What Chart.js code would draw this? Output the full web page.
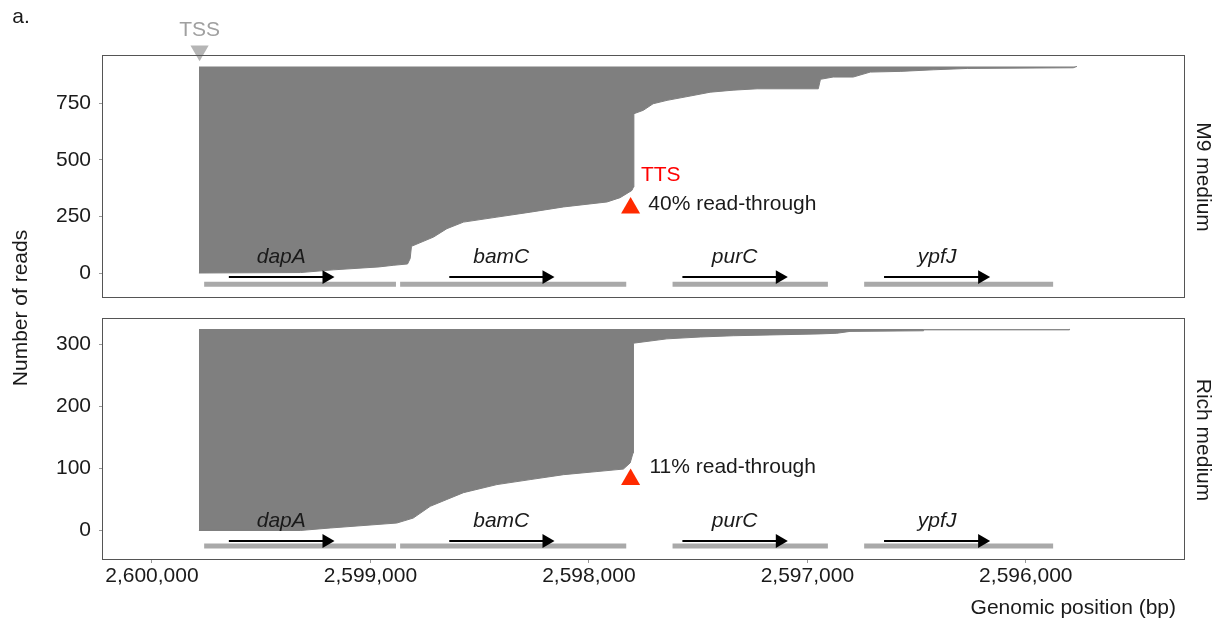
<!DOCTYPE html>
<html lang="en">
<head>
<meta charset="UTF-8">
<title>Read-through at the bamC terminator</title>
<script src="https://cdn.jsdelivr.net/npm/chart.js"></script>
<style>
    body { margin: 0; background: #fff; }
    #wrap { position: relative; width: 1221px; height: 624px; font-family: "Liberation Sans", Arial, sans-serif; }
    .panel { position: absolute; left: 0; top: 0; width: 1221px; height: 624px; }
    .txt { position: absolute; font-size: 21px; line-height: 1; color: #1a1a1a; white-space: nowrap; transform: translate(-50%, -50%); }
    .up { transform: translate(-50%, -50%) rotate(-90deg); }
    .down { transform: translate(-50%, -50%) rotate(90deg); }
    .right { transform: translate(-100%, -50%); }
</style>
</head>
<body>
<div id="wrap">
    <div class="panel"><canvas id="m9Canvas"></canvas></div>
    <div class="panel"><canvas id="richCanvas"></canvas></div>
    <div class="txt" style="left:21px; top:15px;">a.</div>
    <div class="txt up" style="left:19px; top:308px;">Number of reads</div>
    <div class="txt down" style="left:1204px; top:177px;">M9 medium</div>
    <div class="txt down" style="left:1204px; top:440px;">Rich medium</div>
    <div class="txt right" style="left:1176px; top:606px;">Genomic position (bp)</div>
</div>
<script>
// genomic axis ticks (bp)
const xTicks = [2596000, 2597000, 2598000, 2599000, 2600000];
const tssPos = 2599782;
const ttsPos = 2597809;

// gene annotation (bp)
const geneNames  = ['dapA', 'bamC', 'purC', 'ypfJ'];
const geneStart  = [2599761, 2598864, 2597617, 2596740];
const geneEnd    = [2598883, 2597829, 2596906, 2595875];
const arrowStart = [2599648, 2598639, 2597572, 2596649];
const arrowEnd   = [2599201, 2598194, 2597126, 2596200];
const labelPos   = [2599408, 2598401, 2597333, 2596406];

// reads sorted by their 3' end: end position vs. cumulative read count
const m9End   = [2599785, 2599320, 2599170, 2598960, 2598896, 2598830, 2598818, 2598812, 2598711, 2598650,
                 2598574, 2598421, 2598268, 2598116, 2597917, 2597857, 2597803, 2597796, 2597794, 2597751,
                 2597706, 2597642, 2597537, 2597445, 2597340, 2597230, 2596950, 2596940, 2596882, 2596790,
                 2596712, 2596575, 2596424, 2596268, 2595783, 2595766];
const m9Reads = [0, 2, 14, 27, 34, 40, 64, 118, 159, 196,
                 225, 247, 269, 292, 314, 333, 365, 380, 704, 719,
                 748, 763, 782, 799, 808, 814, 814, 856, 866, 866,
                 888, 891, 898, 904, 907, 913];
const m9Total = 913;

const richEnd   = [2599785, 2599321, 2599184, 2598879, 2598804, 2598726, 2598650, 2598574, 2598421, 2598269,
                   2598116, 2597963, 2597842, 2597811, 2597798, 2597796, 2597643, 2597490, 2597339, 2596941,
                   2596865, 2596805, 2596470, 2596468, 2595802, 2595800];
const richReads = [0, 0, 4, 12, 20, 39, 50, 61, 74, 82,
                   90, 95, 99, 109, 125, 302, 309, 312, 314, 317,
                   318, 321, 322, 323.5, 323.5, 325];
const richTotal = 325;

const FONT = '"Liberation Sans", Arial, sans-serif';
const INK = '#1a1a1a';

// gene names, TSS/TTS notes and the panel frame
const panelText = {
    id: 'panelText',
    afterDatasetsDraw(chart, args, opts) {
        const ctx = chart.ctx;
        const x = chart.scales.x, y = chart.scales.y;
        ctx.save();
        opts.items.forEach(t => {
            ctx.font = (t.italic ? 'italic ' : '') + '21px ' + FONT;
            ctx.fillStyle = t.color || INK;
            ctx.textAlign = t.align || 'center';
            ctx.textBaseline = t.baseline || 'middle';
            ctx.fillText(t.text, x.getPixelForValue(t.x), y.getPixelForValue(t.y));
        });
        const a = chart.chartArea;
        ctx.strokeStyle = '#555';
        ctx.lineWidth = 1;
        ctx.strokeRect(Math.round(a.left) - 0.5, Math.round(a.top) - 0.5,
                       Math.round(a.right - a.left) + 1, Math.round(a.bottom - a.top) + 1);
        ctx.restore();
    }
};

function buildPanel(canvasId, p) {
    const datasets = [];

    if (p.tssY !== undefined) {
        datasets.push({
            data: [{x: tssPos, y: p.tssY}],
            showLine: false, clip: false,
            pointStyle: 'triangle', pointRotation: 180, pointRadius: 10.5,
            pointBackgroundColor: '#b5b5b5', pointBorderWidth: 0
        });
    }
    datasets.push({
        data: [{x: ttsPos, y: p.ttsY}],
        showLine: false,
        pointStyle: 'triangle', pointRadius: 11,
        pointBackgroundColor: '#ff2a00', pointBorderWidth: 0
    });
    geneNames.forEach((g, i) => {
        datasets.push({
            data: [{x: arrowStart[i], y: p.arrowY}, {x: arrowEnd[i], y: p.arrowY}],
            borderColor: '#000', borderWidth: 2, fill: false,
            pointStyle: 'triangle', pointRotation: 90,
            pointRadius: c => c.dataIndex === 1 ? 8 : 0,
            pointBackgroundColor: '#000', pointBorderWidth: 0
        });
    });
    geneNames.forEach((g, i) => {
        datasets.push({
            data: [{x: geneStart[i], y: p.barY}, {x: geneEnd[i], y: p.barY}],
            borderColor: '#a9a9a9', borderWidth: 5, borderCapStyle: 'butt',
            fill: false, pointRadius: 0
        });
    });
    datasets.push({
        data: p.ends.map((e, i) => ({x: e, y: p.reads[i]})),
        borderColor: '#7f7f7f', borderWidth: 1, backgroundColor: '#7f7f7f',
        fill: {value: p.total}, pointRadius: 0, tension: 0
    });

    const items = geneNames.map((g, i) => ({text: g, x: labelPos[i], y: p.labelY, italic: true, baseline: 'alphabetic'}))
        .concat(p.notes);

    const tickGrid = {display: true, drawOnChartArea: false, drawTicks: true, tickLength: 4, color: '#999'};

    new Chart(document.getElementById(canvasId), {
        type: 'line',
        data: {datasets: datasets},
        options: {
            responsive: true,
            maintainAspectRatio: false,
            animation: false,
            events: [],
            layout: {padding: p.padding},
            plugins: {
                legend: {display: false},
                tooltip: {enabled: false},
                panelText: {items: items}
            },
            scales: {
                x: {
                    type: 'linear',
                    reverse: true,
                    min: 2595276,
                    max: 2600224,
                    display: p.showX,
                    afterBuildTicks: s => { s.ticks = xTicks.map(v => ({value: v})); },
                    afterFit: s => { if (p.showX) s.height = 65; },
                    grid: tickGrid,
                    border: {display: false},
                    ticks: {
                        color: INK, padding: 1, maxRotation: 0,
                        font: {family: FONT, size: 21},
                        callback: v => v.toLocaleString('en-US')
                    }
                },
                y: {
                    min: p.yMin,
                    max: p.yMax,
                    afterBuildTicks: s => { s.ticks = p.yTicks.map(v => ({value: v})); },
                    afterFit: s => { s.width = 103; },
                    grid: tickGrid,
                    border: {display: false},
                    ticks: {color: INK, padding: 8, font: {family: FONT, size: 21}}
                }
            }
        },
        plugins: [panelText]
    });
}

buildPanel('m9Canvas', {
    ends: m9End, reads: m9Reads, total: m9Total,
    yMin: -106, yMax: 959, yTicks: [0, 250, 500, 750],
    barY: -50, arrowY: -18, labelY: 45, ttsY: 287, tssY: 982,
    showX: false,
    padding: {top: 56, bottom: 327, left: 0, right: 37},
    notes: [
        {text: 'TSS', x: tssPos, y: 1072, color: '#a0a0a0'},
        {text: 'TTS', x: 2597762, y: 434, color: '#ff0000', align: 'left'},
        {text: '40% read-through', x: 2597728, y: 304, align: 'left'}
    ]
});

buildPanel('richCanvas', {
    ends: richEnd, reads: richReads, total: richTotal,
    yMin: -46, yMax: 341, yTicks: [0, 100, 200, 300],
    barY: -25, arrowY: -17, labelY: 6, ttsY: 82,
    showX: true,
    padding: {top: 319, bottom: 0, left: 0, right: 37},
    notes: [
        {text: '11% read-through', x: 2597723, y: 102, align: 'left'}
    ]
});
</script>
</body>
</html>
